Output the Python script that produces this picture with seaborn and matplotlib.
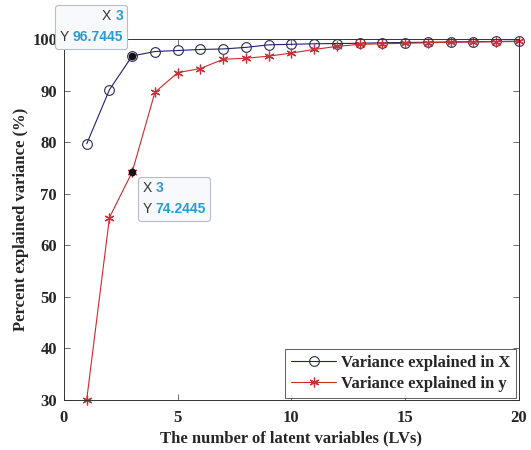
import numpy as np
import matplotlib
matplotlib.use("Agg")
import matplotlib.pyplot as plt
import seaborn as sns
from matplotlib.offsetbox import TextArea, HPacker, VPacker, AnnotationBbox

# data
lvs = list(range(1, 21))
var_x = [79.7, 90.2, 96.7445, 97.6, 97.8, 98.0, 98.1, 98.4, 98.9, 99.0,
         99.1, 99.15, 99.2, 99.3, 99.35, 99.4, 99.45, 99.5, 99.55, 99.6]
var_y = [30.1, 65.4, 74.2445, 89.7, 93.5, 94.3, 96.1, 96.3, 96.7, 97.3,
         98.0, 98.6, 99.0, 99.1, 99.2, 99.3, 99.4, 99.45, 99.5, 99.55]
tip_x = 3
x_ticks = [0, 5, 10, 15, 20]
y_ticks = [30, 40, 50, 60, 70, 80, 90, 100]

sns.set_style("ticks")
plt.rcParams['font.family'] = ['Liberation Serif', 'DejaVu Serif']

fig = plt.figure(figsize=(5.31, 4.5), dpi=100)
ax = fig.add_axes([0.1205, 0.111, 0.8565, 0.802])

navy = '#20206e'
red = '#cc2a2a'
sns.lineplot(x=lvs, y=var_x, ax=ax, color=navy, lw=0.8, marker='o', ms=7,
             mfc='none', mec='#2a2a50', mew=0.8, label='Variance explained in X',
             clip_on=False)
sns.lineplot(x=lvs, y=var_y, ax=ax, color=red, lw=0.8, marker=(6, 2, 0), ms=7,
             mec='#c8303a', mew=0.9, label='Variance explained in y',
             clip_on=False)

ax.set_xlim(0, 20)
ax.set_ylim(30, 100)
ax.set_xticks(x_ticks)
ax.set_yticks(y_ticks)
for s in ax.spines.values():
    s.set_color('#333333')
    s.set_linewidth(0.7)
ax.tick_params(direction='in', top=True, right=True, length=4, width=0.6,
               color='#555555', labelsize=12)
ax.tick_params(axis='x', pad=7)
ax.tick_params(axis='y', pad=5)
for lab in ax.get_xticklabels() + ax.get_yticklabels():
    lab.set_fontweight('bold')
    lab.set_color('#262626')

ax.set_xlabel('The number of latent variables (LVs)', fontsize=12,
              fontweight='bold', color='#262626', labelpad=3)
ax.set_ylabel('Percent explained variance (%)', fontsize=12,
              fontweight='bold', color='#262626', labelpad=2)

leg = ax.legend(loc='lower right', fontsize=12, frameon=True, fancybox=False,
                borderpad=0.35, handlelength=2.7, handletextpad=0.3,
                borderaxespad=0.15, labelspacing=0.3)
leg.get_frame().set_edgecolor('#333333')
leg.get_frame().set_linewidth(0.7)
for t in leg.get_texts():
    t.set_fontweight('bold')


# MATLAB-style data tips
def data_tip(yv, offset, align):
    ax.plot([tip_x], [yv], 'o', color='#111111', ms=4.5, zorder=5, clip_on=False)
    fp = dict(family=['Liberation Sans', 'DejaVu Sans'], size=10)
    rows = []
    for name, val in (('X', str(tip_x)), ('Y', f'{yv:.4f}')):
        rows.append(HPacker(children=[
            TextArea(name, textprops=dict(color='#333333', **fp)),
            TextArea(val, textprops=dict(color='#2b9bd1', weight='bold', **fp))],
            pad=0, sep=3))
    box = VPacker(children=rows, align=align, pad=0, sep=5)
    ab = AnnotationBbox(box, (tip_x, yv), xybox=offset, boxcoords='offset pixels',
                        box_alignment=(0.5, 0.5), pad=0.5, frameon=True,
                        annotation_clip=False, zorder=6,
                        bboxprops=dict(boxstyle='round,pad=0.3,rounding_size=0.2',
                                       fc='#f8f9fc', ec='#b8bcc6', lw=0.8))
    ax.add_artist(ab)


data_tip(var_x[tip_x - 1], (-41, 29), 'right')
data_tip(var_y[tip_x - 1], (42, -27), 'left')

fig.savefig('out.png', dpi=100, facecolor='white')
